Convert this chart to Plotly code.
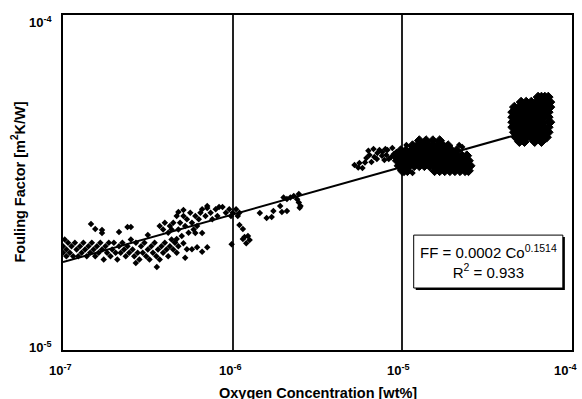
import plotly.graph_objects as go

# ---- data (log10 of values) ----
# each tuple: (log10 oxygen concentration [wt%], log10 fouling factor [m2K/W])
band_left = [(-7.00,-4.69),(-7.00,-4.71),(-6.99,-4.67),(-6.98,-4.70),(-6.98,-4.72),(-6.97,-4.68),
             (-6.96,-4.71),(-6.95,-4.69),(-6.94,-4.72),(-6.93,-4.68),(-6.92,-4.70),(-6.91,-4.72),
             (-6.90,-4.69),(-6.89,-4.71),(-6.88,-4.68),(-6.87,-4.70),(-6.86,-4.72),(-6.85,-4.69),
             (-6.84,-4.71),(-6.83,-4.68),(-6.82,-4.70),(-6.81,-4.72),(-6.80,-4.69),(-6.79,-4.71),
             (-6.78,-4.68),(-6.77,-4.70),(-6.76,-4.73),(-6.75,-4.69),(-6.74,-4.71),(-6.73,-4.68),
             (-6.72,-4.72),(-6.71,-4.70),(-6.70,-4.68),(-6.69,-4.71),(-6.68,-4.73),(-6.67,-4.69),
             (-6.66,-4.71),(-6.65,-4.68),(-6.64,-4.70),(-6.63,-4.72),(-6.62,-4.69),(-6.61,-4.71),
             (-6.60,-4.67),(-6.59,-4.70),(-6.58,-4.72),(-6.57,-4.68),(-6.56,-4.71),(-6.55,-4.73),
             (-6.54,-4.69),(-6.53,-4.71),(-6.52,-4.68),(-6.51,-4.72),(-6.50,-4.70),(-6.49,-4.73),
             (-6.48,-4.69),(-6.47,-4.71),(-6.46,-4.68),(-6.45,-4.72),(-6.44,-4.70),(-6.43,-4.73),
             (-6.42,-4.69),(-6.41,-4.71),(-6.40,-4.68),(-6.39,-4.70),(-6.38,-4.72),(-6.37,-4.69),
             (-6.36,-4.67),(-6.35,-4.70),(-6.34,-4.68),(-6.33,-4.71),(-6.32,-4.69)]
low_outliers = [(-6.571,-4.740),(-6.447,-4.752)]
high_outliers = [(-6.835,-4.624),(-6.81,-4.639),(-6.77,-4.642),(-6.77,-4.651),(-6.67,-4.648),
                 (-6.62,-4.633),(-6.60,-4.633),(-6.50,-4.657)]
rising = [(-6.43,-4.63),(-6.41,-4.64),(-6.40,-4.62),(-6.38,-4.65),(-6.37,-4.63),(-6.36,-4.64),
          (-6.35,-4.62),(-6.33,-4.60),(-6.32,-4.64),(-6.31,-4.62),(-6.30,-4.66),(-6.29,-4.60),
          (-6.28,-4.63),(-6.27,-4.61),(-6.26,-4.65),(-6.25,-4.59),(-6.24,-4.62),(-6.23,-4.64),
          (-6.22,-4.60),(-6.21,-4.63),(-6.20,-4.61),(-6.19,-4.59),(-6.32,-4.588),(-6.29,-4.582),
          (-6.18,-4.58),(-6.16,-4.60),(-6.15,-4.57),(-6.13,-4.59),(-6.12,-4.61),(-6.10,-4.58),
          (-6.09,-4.60),(-6.15,-4.576),(-6.08,-4.573),(-6.06,-4.573)]
lower_scatter = [(-6.34,-4.678),(-6.29,-4.681),(-6.27,-4.699),(-6.24,-4.699),(-6.21,-4.693),
                 (-6.18,-4.707),(-6.15,-4.693),(-6.28,-4.725),(-6.33,-4.669),(-6.22,-4.651),
                 (-6.18,-4.651)]
near_1e6 = [(-6.04,-4.59),(-6.02,-4.58),(-6.01,-4.60),(-6.00,-4.59),(-5.98,-4.58),(-5.97,-4.60),
            (-5.96,-4.59),(-6.006,-4.684),(-5.96,-4.627),(-5.94,-4.639),(-5.93,-4.663),
            (-5.91,-4.66),(-5.90,-4.672),(-5.92,-4.681),(-5.94,-4.669)]
mid_left = [(-5.84,-4.591),(-5.80,-4.606),(-5.77,-4.603),(-5.76,-4.585),(-5.72,-4.570),
            (-5.71,-4.588),(-5.68,-4.585),(-5.70,-4.545),(-5.68,-4.549),(-5.66,-4.545),
            (-5.64,-4.54),(-5.62,-4.55),(-5.61,-4.56),(-5.60,-4.57),(-5.605,-4.575),(-5.61,-4.534)]
mid_scatter = [(-5.282,-4.448),(-5.253,-4.442),(-5.235,-4.457),(-5.212,-4.427),(-5.194,-4.418),
               (-5.182,-4.439),(-5.165,-4.424),(-5.147,-4.412),(-5.135,-4.403),(-5.118,-4.409),
               (-5.106,-4.433),(-5.094,-4.418),(-5.088,-4.403),(-5.065,-4.424),(-5.059,-4.397),
               (-5.035,-4.409),(-5.029,-4.433),(-5.018,-4.418),(-5.018,-4.454),(-5.0,-4.442),
               (-4.976,-4.388),(-4.99,-4.472),(-4.97,-4.469),(-4.94,-4.472),(-4.665,-4.388),
               (-4.647,-4.394),(-5.20,-4.405),(-5.17,-4.40),(-5.15,-4.43),(-5.12,-4.42),
               (-5.10,-4.40),(-5.08,-4.43),(-5.05,-4.415),(-5.22,-4.44),(-5.26,-4.455)]
# dense clusters: rows of log10 fouling factor -> list of log10 oxygen concentrations
mid_rows = {
    -4.375: [-4.90,-4.86,-4.82,-4.78],
    -4.390: [-4.94,-4.91,-4.88,-4.85,-4.82,-4.79,-4.76,-4.73],
    -4.405: [-5.01,-4.98,-4.95,-4.92,-4.89,-4.86,-4.83,-4.80,-4.77,-4.74,-4.71,-4.68],
    -4.420: [-5.04,-5.01,-4.98,-4.95,-4.92,-4.89,-4.86,-4.83,-4.80,-4.77,-4.74,-4.71,-4.68,-4.65,-4.62],
    -4.435: [-5.03,-5.00,-4.97,-4.94,-4.91,-4.88,-4.85,-4.82,-4.79,-4.76,-4.73,-4.70,-4.67,-4.64,-4.61],
    -4.450: [-5.02,-4.99,-4.96,-4.93,-4.90,-4.87,-4.84,-4.81,-4.78,-4.75,-4.72,-4.69,-4.66,-4.63,-4.60],
    -4.465: [-5.00,-4.97,-4.81,-4.78,-4.75,-4.72,-4.69,-4.66,-4.63,-4.61],
}
right_rows = {
    -4.245: [-4.20,-4.18,-4.16,-4.14],
    -4.260: [-4.30,-4.27,-4.24,-4.21,-4.18,-4.15,-4.13],
    -4.275: [-4.34,-4.31,-4.28,-4.25,-4.22,-4.19,-4.16,-4.13],
    -4.290: [-4.35,-4.32,-4.29,-4.26,-4.23,-4.20,-4.17,-4.14],
    -4.305: [-4.35,-4.32,-4.29,-4.26,-4.23,-4.20,-4.17,-4.14],
    -4.320: [-4.35,-4.32,-4.29,-4.26,-4.23,-4.20,-4.17,-4.13],
    -4.335: [-4.35,-4.32,-4.29,-4.26,-4.23,-4.20,-4.17,-4.14],
    -4.350: [-4.34,-4.31,-4.28,-4.25,-4.22,-4.19,-4.16,-4.14],
    -4.365: [-4.33,-4.30,-4.27,-4.24,-4.21,-4.18,-4.15],
    -4.378: [-4.31,-4.28,-4.22,-4.18],
}
# power-law trendline end points (oxygen [wt%], fouling factor)
fit_x = [1e-7, 7.08e-5]
fit_y = [1.83e-5, 4.65e-5]

x_ticks = [1e-7, 1e-6, 1e-5, 1e-4]
x_tick_labels = ["10<sup>-7</sup>", "10<sup>-6</sup>", "10<sup>-5</sup>", "10<sup>-4</sup>"]
y_tick_labels = ["10<sup>-4</sup>", "10<sup>-5</sup>"]
x_title = "Oxygen Concentration [wt%]"
y_title = "Fouling Factor [m<sup>2</sup>K/W]"
eq_text = "FF = 0.0002 Co<sup>0.1514</sup><br>R<sup>2</sup> = 0.933"

# ---- build ----
sparse = band_left + low_outliers + high_outliers + rising + lower_scatter + near_1e6 + mid_left + mid_scatter
sx = [10 ** a for a, b in sparse]
sy = [10 ** b for a, b in sparse]
dx, dy = [], []
for rows in (mid_rows, right_rows):
    for yv, xs in rows.items():
        for xv in xs:
            dx.append(10 ** xv)
            dy.append(10 ** yv)

FONT = "Liberation Sans, Arial, sans-serif"
fig = go.Figure()
fig.add_trace(go.Scatter(x=fit_x, y=fit_y, mode="lines", line=dict(color="black", width=2),
                         hoverinfo="skip"))
fig.add_trace(go.Scatter(x=sx, y=sy, mode="markers",
                         marker=dict(symbol="diamond", size=5, color="black")))
fig.add_trace(go.Scatter(x=dx, y=dy, mode="markers",
                         marker=dict(symbol="diamond", size=7.5, color="black",
                                     line=dict(color="black", width=1))))

fig.update_layout(
    width=582, height=399, showlegend=False,
    margin=dict(l=63, r=8, t=15, b=49),
    paper_bgcolor="white", plot_bgcolor="white",
    font=dict(family=FONT, color="black"),
    xaxis=dict(type="log", range=[-7, -4], tickvals=x_ticks, showticklabels=False,
               showgrid=True, gridcolor="#222", gridwidth=1.5, zeroline=False,
               showline=True, linecolor="black", linewidth=2, mirror=True, ticks=""),
    yaxis=dict(type="log", range=[-5, -4], showticklabels=False, showgrid=False,
               zeroline=False, showline=True, linecolor="black", linewidth=2, mirror=True,
               ticks=""),
)

ann = []
xshifts = [-3, -2, -4, -7]
for i, (lab, sh) in enumerate(zip(x_tick_labels, xshifts)):
    ann.append(dict(text="<b>" + lab + "</b>", xref="paper", yref="paper", x=i / 3, y=0,
                    xanchor="center", yanchor="middle", yshift=-20, xshift=sh,
                    showarrow=False, font=dict(size=13, family=FONT)))
ann.append(dict(text="<b>" + y_tick_labels[0] + "</b>", xref="paper", yref="paper", x=0, y=1,
                xanchor="right", yanchor="middle", xshift=-9, yshift=-7, showarrow=False,
                font=dict(size=13, family=FONT)))
ann.append(dict(text="<b>" + y_tick_labels[1] + "</b>", xref="paper", yref="paper", x=0, y=0,
                xanchor="right", yanchor="middle", xshift=-9, yshift=3, showarrow=False,
                font=dict(size=13, family=FONT)))
ann.append(dict(text="<b>" + x_title + "</b>", xref="paper", yref="paper", x=0.5, y=0,
                xanchor="center", yanchor="middle", yshift=-43, showarrow=False,
                font=dict(size=14.5, family=FONT)))
ann.append(dict(text="<b>" + y_title + "</b>", xref="paper", yref="paper", x=0, y=0.5,
                xanchor="center", yanchor="middle", xshift=-45, textangle=-90, showarrow=False,
                font=dict(size=14.5, family=FONT)))
# equation box
bx0, bx1, by0, by1 = 0.689, 0.982, 0.185, 0.343
fig.add_shape(type="rect", xref="paper", yref="paper", x0=bx0 + 0.004, x1=bx1 + 0.004,
              y0=by0 - 0.006, y1=by1 - 0.006, fillcolor="black", line=dict(width=0), layer="above")
fig.add_shape(type="rect", xref="paper", yref="paper", x0=bx0, x1=bx1, y0=by0, y1=by1,
              fillcolor="white", line=dict(color="black", width=1), layer="above")
ann.append(dict(text=eq_text, xref="paper", yref="paper", x=(bx0 + bx1) / 2, y=(by0 + by1) / 2,
                xanchor="center", yanchor="middle", showarrow=False, align="center",
                font=dict(size=15, family=FONT)))
fig.update_layout(annotations=ann)

fig.write_html("out.html", config={"displayModeBar": False},
               post_script="document.body.style.margin='0';")
